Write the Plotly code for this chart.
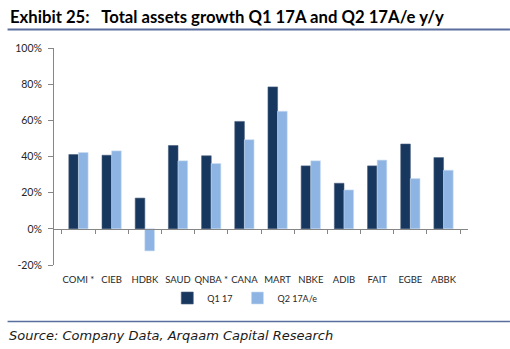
import plotly.graph_objects as go

# Banks and y/y total assets growth (%)
banks = ["COMI *", "CIEB", "HDBK", "SAUD", "QNBA *", "CANA",
         "MART", "NBKE", "ADIB", "FAIT", "EGBE", "ABBK"]
q1_17 = [41.1, 40.7, 17.0, 46.1, 40.4, 59.4, 78.5, 34.8, 25.2, 34.8, 46.9, 39.4]
q2_17 = [42.2, 43.1, -12.2, 37.6, 36.1, 49.3, 65.0, 37.6, 21.5, 38.0, 27.8, 32.4]

y_ticks = [-20, 0, 20, 40, 60, 80, 100]
y_tick_text = [f"{v}%" for v in y_ticks]

NAVY = "#17375E"
LIGHT = "#8DB4E2"
AXIS = "#868686"
RULE = "#5A6E9E"

W, H = 510, 349
L, R, T, B = 53.5, 42, 48, 84

fig = go.Figure()
fig.add_trace(go.Bar(x=banks, y=q1_17, name="Q1 17", marker_color=NAVY,
                     marker_line=dict(color="#4A5F7E", width=0.6)))
fig.add_trace(go.Bar(x=banks, y=q2_17, name="Q2 17A/e", marker_color=LIGHT,
                     marker_line=dict(color="#C9DCF2", width=0.6)))
# carrier trace for the zero-line category axis (ticks between groups)
fig.add_trace(go.Scatter(x=banks, y=[0] * len(banks), xaxis="x2", mode="markers",
                         marker=dict(opacity=0), showlegend=False, hoverinfo="skip"))

y_min, y_max = -20, 100
fig.update_layout(
    width=W, height=H,
    margin=dict(l=L, r=R, t=T, b=B),
    paper_bgcolor="white", plot_bgcolor="white",
    font=dict(family="Lato, Carlito, sans-serif", size=9, color="#262626"),
    barmode="group", bargap=0.42, bargroupgap=0,
    showlegend=True,
    legend=dict(orientation="h", x=(245 - L) / (W - L - R), xanchor="center",
                y=(H - B - 298) / (H - T - B), yanchor="middle",
                font=dict(size=9, color="#262626"), itemwidth=30,
                tracegroupgap=0, bgcolor="rgba(0,0,0,0)"),
    xaxis=dict(type="category", categoryorder="array", categoryarray=banks,
               showline=False, ticks="", showgrid=False, zeroline=False,
               tickfont=dict(size=9.5, color="#262626"), ticklabelstandoff=7),
    xaxis2=dict(type="category", categoryorder="array", categoryarray=banks,
                overlaying="x", anchor="free",
                position=(0 - y_min) / (y_max - y_min),
                showline=True, linecolor=AXIS, linewidth=1.2,
                ticks="outside", tickson="boundaries", ticklen=4,
                tickcolor=AXIS, showticklabels=False, showgrid=False,
                matches="x"),
    yaxis=dict(range=[y_min, y_max], tickvals=y_ticks, ticktext=y_tick_text,
               showline=True, linecolor=AXIS, linewidth=1, ticks="outside",
               ticklen=5, tickcolor=AXIS, showgrid=False, zeroline=False,
               ticklabelstandoff=4,
               tickfont=dict(size=10.5, color="#262626")),
)

# Heading, rules and source line
fig.add_annotation(text="<b>Exhibit 25:   Total assets growth Q1 17A and Q2 17A/e y/y</b>",
                   xref="paper", yref="paper", x=-(L - 7) / (W - L - R), y=1 + (T - 5) / (H - T - B),
                   xanchor="left", yanchor="top", showarrow=False,
                   font=dict(family="Lato, Carlito, sans-serif", size=16.7, color="#000000"))
fig.add_shape(type="line", xref="paper", yref="paper",
              x0=-(L - 7) / (W - L - R), x1=1 + R / (W - L - R),
              y0=1 + (T - 29.5) / (H - T - B), y1=1 + (T - 29.5) / (H - T - B),
              line=dict(color=RULE, width=2))
fig.add_shape(type="line", xref="paper", yref="paper",
              x0=-(L - 7) / (W - L - R), x1=1 + R / (W - L - R),
              y0=-(321.5 - (H - B)) / (H - T - B), y1=-(321.5 - (H - B)) / (H - T - B),
              line=dict(color=RULE, width=1.3))
fig.add_annotation(text="<i>Source: Company Data, Arqaam Capital Research</i>",
                   xref="paper", yref="paper", x=-(L - 6) / (W - L - R),
                   y=-(335 - (H - B)) / (H - T - B),
                   xanchor="left", yanchor="middle", showarrow=False,
                   font=dict(family="DejaVu Sans, sans-serif", size=13, color="#1a1a1a"))

fig.write_html("out.html")
